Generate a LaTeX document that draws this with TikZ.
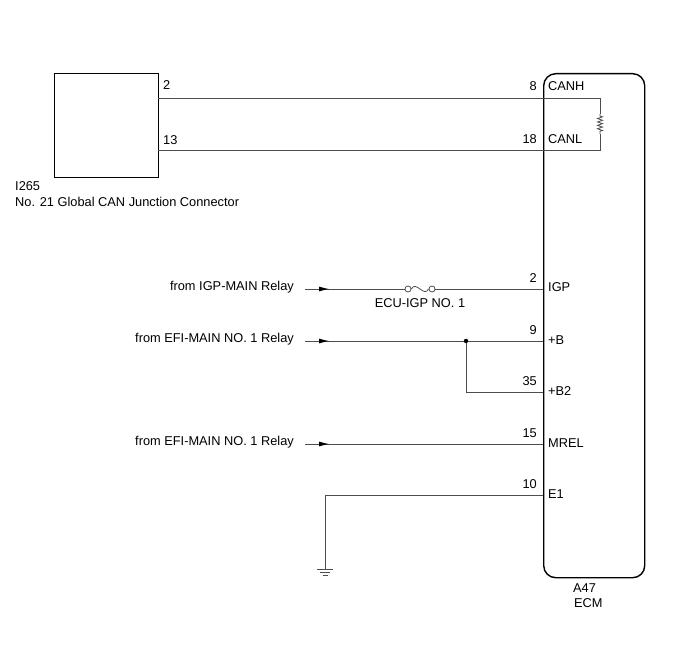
\documentclass[tikz,border=0pt]{standalone}
\usepackage{fontspec}
\setmainfont{Liberation Sans}
\usetikzlibrary{arrows.meta,decorations.pathmorphing,calc}
\begin{document}
\begin{tikzpicture}[x=1pt,y=-1pt,
  wire/.style={draw=black!70,line width=0.8pt},
  box/.style={draw=black,line width=1.4pt},
  lbl/.style={inner sep=0pt,font=\fontsize{12.8}{15}\selectfont},
  pinl/.style={lbl,anchor=base east},
  pinr/.style={lbl,anchor=base west},
  feed/.style={wire,arrows={-{Latex[length=10pt,width=5pt,color=black]}}},
  dot/.style={circle,fill=black,inner sep=0pt,minimum size=4.5pt}]
\useasboundingbox (0,0) rectangle (688,658);
% left connector
\node[box,minimum width=104pt,minimum height=104pt,inner sep=0pt,anchor=north west] (jc) at (54,73) {};
\node[lbl,anchor=base west] (jid) at (15,190) {I265};
\node[lbl,anchor=base west] (jname) at (15,206) {No. 21 Global CAN Junction Connector};
% ECM
\node[box,rounded corners=12pt,minimum width=101pt,minimum height=504pt,inner sep=0pt,anchor=north west] (ecm) at (543,73) {};
\node[lbl,anchor=base west] (ecmid) at (573,592) {A47};
\node[lbl,anchor=base west] (ecmname) at (574,607) {ECM};
% coordinates
\coordinate (j2) at (158,98);
\coordinate (j13) at (158,150);
\coordinate (ecanh) at (543,98);
\coordinate (ecanl) at (543,150);
\coordinate (rH) at (600,98);
\coordinate (rL) at (600,150);
\coordinate (r1) at (600,114);
\coordinate (r2) at (600,134);
% CAN wires
\draw[wire] (j2) -- (ecanh);
\draw[wire] (j13) -- (ecanl);
\node[pinr] (p2) at (163,90) {2};
\node[pinr] (p13) at (163,145) {13};
\node[pinl] (p8) at (537,91) {8};
\node[pinr] (nCANH) at (548,91) {CANH};
\node[pinl] (p18) at (537,144) {18};
\node[pinr] (nCANL) at (548,144) {CANL};
% termination resistor
\draw[wire] (ecanh) -- (rH) -- (r1);
\draw[wire,decorate,decoration={zigzag,segment length=3.4pt,amplitude=2.5pt,pre length=2pt,post length=2pt}] (r1) -- (r2);
\draw[wire] (r2) -- (rL) -- (ecanl);
% IGP
\coordinate (s1) at (305,289);
\coordinate (a1) at (329,289);
\node[circle,draw=black!70,line width=0.8pt,inner sep=0pt,minimum size=6pt] (f1) at (408,289) {};
\node[circle,draw=black!70,line width=0.8pt,inner sep=0pt,minimum size=6pt] (f2) at (432,289) {};
\coordinate (eigp) at (543,289);
\draw[wire] (s1) -- (f1.west);
\draw[feed] (s1) -- (a1);
\draw[wire] (f1.east) .. controls (416,280) and (424,298) .. (f2.west);
\draw[wire] (f2.east) -- (eigp);
\node[lbl,anchor=base] (fuse) at (420,307) {ECU-IGP NO. 1};
\node[lbl,anchor=base east] (from1) at (294,290) {from IGP-MAIN Relay};
\node[pinl] (p2b) at (537,282) {2};
\node[pinr] (nIGP) at (548,291) {IGP};
% +B
\coordinate (s2) at (305,341);
\coordinate (a2) at (329,341);
\node[dot] (jn) at (466,341) {};
\coordinate (eb) at (543,341);
\coordinate (jb2) at (466,392);
\coordinate (eb2) at (543,392);
\draw[wire] (s2) -- (jn) -- (eb);
\draw[feed] (s2) -- (a2);
\draw[wire] (jn) -- (jb2) -- (eb2);
\node[lbl,anchor=base east] (from2) at (294,342) {from EFI-MAIN NO. 1 Relay};
\node[pinl] (p9) at (537,334) {9};
\node[pinr] (nB) at (548,344) {+B};
\node[pinl] (p35) at (537,385) {35};
\node[pinr] (nB2) at (548,395) {+B2};
% MREL
\coordinate (s3) at (305,444);
\coordinate (a3) at (329,444);
\coordinate (emrel) at (543,444);
\draw[wire] (s3) -- (emrel);
\draw[feed] (s3) -- (a3);
\node[lbl,anchor=base east] (from3) at (294,445) {from EFI-MAIN NO. 1 Relay};
\node[pinl] (p15) at (537,437) {15};
\node[pinr] (nMREL) at (548,447) {MREL};
% E1 ground
\coordinate (ee1) at (543,495);
\coordinate (gc) at (325,495);
\coordinate (g0) at (325,569);
\draw[wire] (ee1) -- (gc) -- (g0);
\draw[wire] ($(g0)+(-8,0)$) -- ($(g0)+(8,0)$);
\draw[wire] ($(g0)+(-5,3)$) -- ($(g0)+(5,3)$);
\draw[wire] ($(g0)+(-2.5,6)$) -- ($(g0)+(2.5,6)$);
\node[pinl] (p10) at (537,488) {10};
\node[pinr] (nE1) at (548,498) {E1};
\end{tikzpicture}
\end{document}
